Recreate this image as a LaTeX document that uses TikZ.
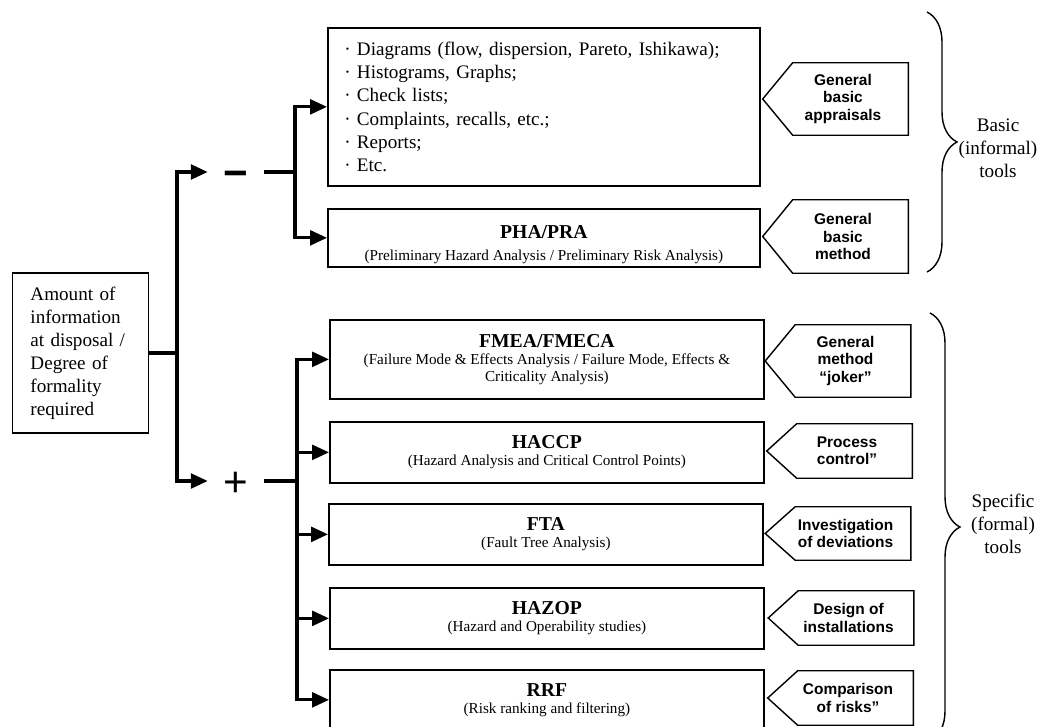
\documentclass[tikz,border=0pt]{standalone}
\usepackage{fontspec}
\setmainfont{Liberation Serif}
\newfontfamily\tagfont{Liberation Sans}
\usetikzlibrary{arrows.meta,decorations.pathreplacing}
\newcommand{\tooltitle}[1]{{\fontsize{14}{12}\selectfont\bfseries #1}}

\begin{document}
\begin{tikzpicture}[x=0.025cm,y=-0.025cm]
    % Define styles
    \tikzset{
        infobox/.style={rectangle, draw, line width=1.2pt, align=left, text width=2.5cm, inner xsep=0.45cm, minimum height=4cm, font=\fontsize{13.6}{16.4}\selectfont},
        listbox/.style={rectangle, draw, line width=1.2pt, anchor=north west, align=left, text width=9.98cm, inner xsep=0.41cm, minimum height=3.95cm, font=\fontsize{13.6}{16.6}\selectfont},
        toolbox/.style={rectangle, draw, line width=1.2pt, anchor=north west, align=center, minimum width=10.85cm, inner sep=0pt, font=\fontsize{10.8}{12}\selectfont},
        tag/.style={rectangle, minimum width=3.25cm, align=center, inner sep=0pt, font=\tagfont\bfseries\fontsize{11}{12.3}\selectfont},
        tagline/.style={line width=1pt},
        sign/.style={minimum width=1.4cm, inner sep=0pt, text height=22.4pt, text depth=0pt, font=\tagfont\fontsize{30}{30}\selectfont},
        link/.style={line width=2.2pt},
        arrow/.style={line width=2.2pt, -{Triangle[length=12pt,width=10.5pt]}},
        brace/.style={decorate, decoration={brace, amplitude=0.75cm}, line width=1pt},
        group/.style={align=center, font=\fontsize{13.6}{16.4}\selectfont}
    }
    \useasboundingbox (0,0) rectangle (1051,727);

    % Nodes
    \node[infobox] (amount) at (80.5,353) {Amount of\\information\\at disposal /\\Degree of\\formality\\required};
    \node[sign] (minus) at (236,172) {\bfseries −};
    \node[sign] (plus) at (236,481) {+};

    \node[listbox] (diagrams) at (327,27) {· Diagrams (flow, dispersion, Pareto, Ishikawa);\\· Histograms, Graphs;\\· Check lists;\\· Complaints, recalls, etc.;\\· Reports;\\· Etc.};
    \node[toolbox, minimum width=10.8cm, minimum height=1.45cm] (pha) at (327,208) {\tooltitle{\rule{0pt}{18.9pt}PHA/PRA}\\[4.3pt](Preliminary Hazard Analysis / Preliminary Risk Analysis)};
    \node[toolbox, minimum height=1.975cm] (fmea) at (329,319) {\tooltitle{FMEA/FMECA}\\(Failure Mode \& Effects Analysis / Failure Mode, Effects \&\\Criticality Analysis)};
    \node[toolbox, minimum height=1.525cm] (haccp) at (329,421) {\tooltitle{HACCP}\\(Hazard Analysis and Critical Control Points)};
    \node[toolbox, minimum height=1.525cm] (fta) at (328,503) {\tooltitle{FTA}\\(Fault Tree Analysis)};
    \node[toolbox, minimum height=1.525cm] (hazop) at (329,587) {\tooltitle{HAZOP}\\(Hazard and Operability studies)};
    \node[toolbox, minimum height=1.5cm] (rrf) at (329,669) {\tooltitle{RRF}\\(Risk ranking and filtering)};

    \node[tag, minimum height=1.8cm] (appr) at (843,99) {General\\basic\\appraisals};
    \node[tag, minimum height=1.825cm] (meth) at (843,236.5) {General\\basic\\method};
    \node[tag, minimum height=1.8cm] (joker) at (845.5,361) {General\\method\\“joker”};
    \node[tag, minimum height=1.35cm] (proc) at (847,451) {Process\\control”};
    \node[tag, minimum height=1.325cm] (inv) at (845.5,533.5) {Investigation\\of deviations};
    \node[tag, minimum height=1.35cm] (design) at (848.5,618) {Design of\\installations};
    \node[tag, minimum height=1.35cm] (comp) at (848,698) {Comparison\\of risks”};
    \foreach \t in {appr,meth,joker,proc,inv,design,comp}
        \draw[tagline] ([xshift=0.375cm]\t.north west) -- (\t.north east) -- (\t.south east) -- ([xshift=0.375cm]\t.south west) -- ([xshift=-0.375cm]\t.west) -- cycle;

    \node[group] (basic) at (998,148) {Basic\\(informal)\\tools};
    \node[group] (specific) at (1003,524) {Specific\\(formal)\\tools};

    % Braces
    \coordinate (btop) at (927,12);
    \coordinate (bbot) at (927,272);
    \coordinate (stop) at (930,313);
    \coordinate (sbot) at (930,741);
    \draw[brace] (btop) -- (bbot);
    \draw[brace] (stop) -- (sbot);

    % Arrows
    \coordinate (jm) at (177,353);
    \coordinate (jb) at (295,172);
    \coordinate (js) at (297,481);
    \draw[link] (amount) -- (jm);
    \draw[arrow] (jm) |- (minus);
    \draw[arrow] (jm) |- (plus);
    \draw[link] (minus) -- (jb);
    \draw[link] (plus) -- (js);
    \draw[arrow] (jb) |- (diagrams);
    \draw[arrow] (jb) |- (pha);
    \foreach \n in {fmea,haccp,fta,hazop,rrf}
        \draw[arrow] (js) |- (\n);
\end{tikzpicture}
\end{document}
